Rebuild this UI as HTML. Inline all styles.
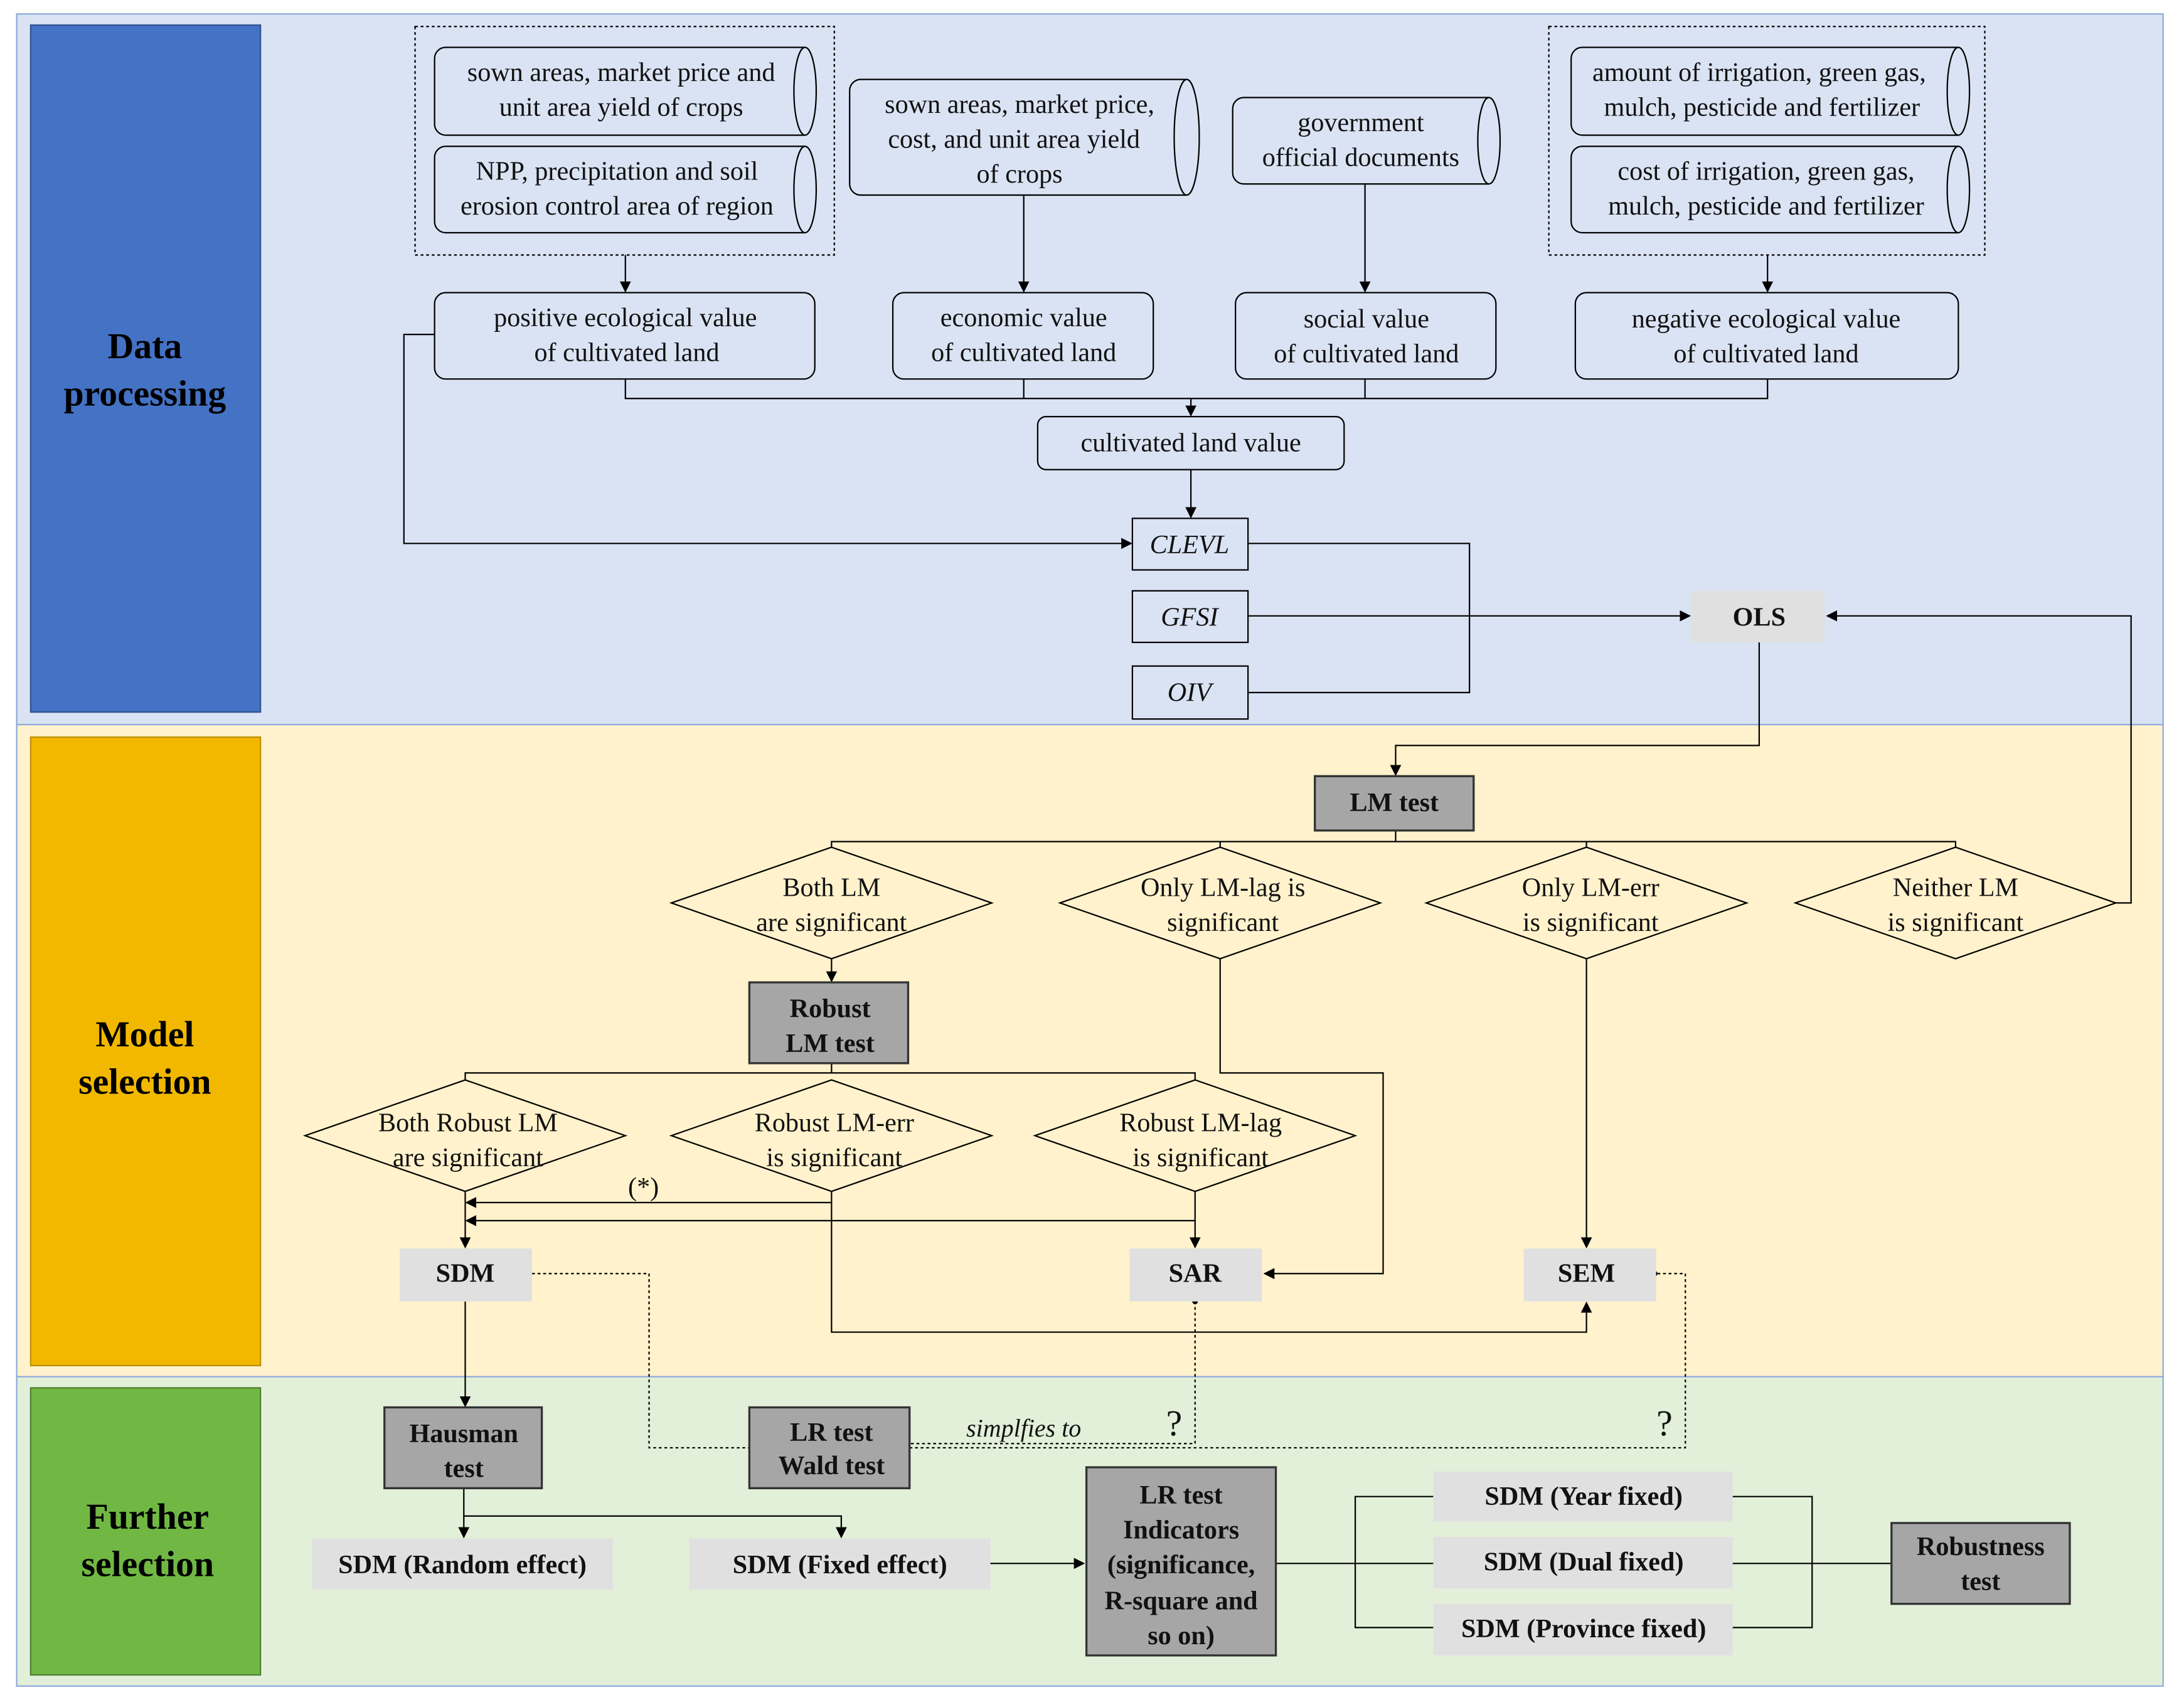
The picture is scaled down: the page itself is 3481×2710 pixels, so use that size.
<!DOCTYPE html>
<html><head><meta charset="utf-8"><style>html,body{margin:0;padding:0;background:#fff}svg{display:block}</style></head>
<body>
<svg width="3481" height="2710" viewBox="0 0 1568 1220" preserveAspectRatio="none" xmlns="http://www.w3.org/2000/svg" font-family="'Liberation Serif', serif" font-size="19">
<defs>
<marker id="a" markerWidth="8" markerHeight="8" refX="7" refY="4" orient="auto" markerUnits="userSpaceOnUse"><path d="M0,0 L8,4 L0,8 z" fill="#000"/></marker>
</defs>
<rect x="0" y="0" width="1568" height="1220" fill="#fff"/>
<rect x="12" y="10" width="1541" height="510" fill="#dae3f3" stroke="#8faadc" stroke-width="1"/>
<rect x="12" y="520" width="1541" height="468" fill="#fff2cc" stroke="#8faadc" stroke-width="1"/>
<rect x="12" y="988" width="1541" height="222" fill="#e2f0d9" stroke="#8faadc" stroke-width="1"/>
<rect x="22" y="18" width="165" height="493" fill="#4472c4" stroke="#2f528f"/>
<rect x="22" y="529" width="165" height="451" fill="#f2b800" stroke="#bf9000"/>
<rect x="22" y="996" width="165" height="206" fill="#70b843" stroke="#507e32"/>
<g font-weight="bold" font-size="26" text-anchor="middle" fill="#000">
<text x="104" y="257">Data</text><text x="104" y="291">processing</text>
<text x="104" y="751">Model</text><text x="104" y="785">selection</text>
<text x="106" y="1097">Further</text><text x="106" y="1131">selection</text>
</g>
<g fill="none" stroke="#000" stroke-width="1">
<rect x="298" y="19" width="301" height="164" stroke-dasharray="2,2"/>
<rect x="1112" y="19" width="313" height="164" stroke-dasharray="2,2"/>
<!-- cylinders -->
<path d="M320,34 H578 A8,31.5 0 0 1 578,97 H320 A8,8 0 0 1 312,89 V42 A8,8 0 0 1 320,34 Z M578,34 A8,31.5 0 0 0 578,97"/>
<path d="M320,105 H578 A8,31 0 0 1 578,167 H320 A8,8 0 0 1 312,159 V113 A8,8 0 0 1 320,105 Z M578,105 A8,31 0 0 0 578,167"/>
<path d="M618,57 H852 A9,41.5 0 0 1 852,140 H618 A8,8 0 0 1 610,132 V65 A8,8 0 0 1 618,57 Z M852,57 A9,41.5 0 0 0 852,140"/>
<path d="M893,70 H1069 A8,31 0 0 1 1069,132 H893 A8,8 0 0 1 885,124 V78 A8,8 0 0 1 893,70 Z M1069,70 A8,31 0 0 0 1069,132"/>
<path d="M1136,34 H1406 A8,31.5 0 0 1 1406,97 H1136 A8,8 0 0 1 1128,89 V42 A8,8 0 0 1 1136,34 Z M1406,34 A8,31.5 0 0 0 1406,97"/>
<path d="M1136,105 H1406 A8,31 0 0 1 1406,167 H1136 A8,8 0 0 1 1128,159 V113 A8,8 0 0 1 1136,105 Z M1406,105 A8,31 0 0 0 1406,167"/>
<rect x="312" y="210" width="273" height="62" rx="8"/>
<rect x="641" y="210" width="187" height="62" rx="8"/>
<rect x="887" y="210" width="187" height="62" rx="8"/>
<rect x="1131" y="210" width="275" height="62" rx="8"/>
<rect x="745" y="299" width="220" height="38" rx="6"/>
<rect x="813" y="372" width="83" height="37"/>
<rect x="813" y="424" width="83" height="37"/>
<rect x="813" y="478" width="83" height="38"/>
<!-- arrows data -->
<path d="M449,183 V209" marker-end="url(#a)"/>
<path d="M735,140 V209" marker-end="url(#a)"/>
<path d="M980,132 V209" marker-end="url(#a)"/>
<path d="M1269,183 V209" marker-end="url(#a)"/>
<path d="M449,272 V286 H1269 V272 M735,272 V286 M980,272 V286"/>
<path d="M855,286 V298" marker-end="url(#a)"/>
<path d="M855,337 V371" marker-end="url(#a)"/>
<path d="M312,240 H290 V390 H812" marker-end="url(#a)"/>
<path d="M896,390 H1055 V497 H896"/>
<path d="M896,442 H1213" marker-end="url(#a)"/>
<path d="M1519,648 H1530 V442 H1312" marker-end="url(#a)"/>
<path d="M1263,461 V535 H1002 V556" marker-end="url(#a)"/>
<!-- model -->
<path d="M1002,596 V604 M597,608 V604 H1404 V608 M876,604 V608 M1139,604 V608"/>
<path d="M597,608 L712,648 L597,688 L482,648 Z"/>
<path d="M876,608 L991,648 L876,688 L761,648 Z"/>
<path d="M1139,608 L1254,648 L1139,688 L1024,648 Z"/>
<path d="M1404,608 L1519,648 L1404,688 L1289,648 Z"/>
<path d="M597,688 V704" marker-end="url(#a)"/>
<path d="M876,688 V770 H993 V914 H908" marker-end="url(#a)"/>
<path d="M1139,688 V895" marker-end="url(#a)"/>
<path d="M597,763 V770 M334,775 V770 H858 V775"/>
<path d="M334,775 L449,815 L334,855 L219,815 Z"/>
<path d="M597,775 L712,815 L597,855 L482,815 Z"/>
<path d="M858,775 L973,815 L858,855 L743,815 Z"/>
<path d="M597,855 V956 H1139 V935" marker-end="url(#a)"/>
<path d="M597,863 H335" marker-end="url(#a)"/>
<path d="M858,855 V876 H335" marker-end="url(#a)"/>
<path d="M334,855 V895" marker-end="url(#a)"/>
<path d="M858,876 V895" marker-end="url(#a)"/>
<path d="M382,914 H466 V1039 H538" stroke-dasharray="2,2"/>
<path d="M653,1039 H1210 V914 H1190" stroke-dasharray="2,2"/>
<path d="M858,934 V1036 H653" stroke-dasharray="2,2"/>
<path d="M334,934 V1009" marker-end="url(#a)"/>
<path d="M333,1068 V1103" marker-end="url(#a)"/>
<path d="M333,1088 H604 V1103" marker-end="url(#a)"/>
<path d="M711,1122 H778" marker-end="url(#a)"/>
<path d="M916,1122 H1029 M1029,1074 H973 V1168 H1029"/>
<path d="M1244,1074 H1301 V1168 H1244 M1244,1122 H1358"/>
</g>
<circle cx="858" cy="934" r="2"/><circle cx="1188" cy="914" r="2"/>
<!-- gray boxes -->
<g stroke="none" fill="#e0e0e0">
<rect x="1214" y="424" width="96" height="37"/>
<rect x="287" y="896" width="95" height="38"/>
<rect x="811" y="896" width="95" height="38"/>
<rect x="1094" y="896" width="95" height="38"/>
<rect x="224" y="1104" width="216" height="37"/>
<rect x="495" y="1104" width="216" height="37"/>
<rect x="1029" y="1056" width="215" height="36"/>
<rect x="1029" y="1103" width="215" height="37"/>
<rect x="1029" y="1151" width="215" height="37"/>
</g>
<g fill="#a6a6a6" stroke="#333" stroke-width="1.5">
<rect x="944" y="557" width="114" height="39"/>
<rect x="538" y="705" width="114" height="58"/>
<rect x="276" y="1010" width="113" height="58"/>
<rect x="538" y="1010" width="115" height="58"/>
<rect x="780" y="1053" width="136" height="135"/>
<rect x="1358" y="1093" width="128" height="58"/>
</g>
<g text-anchor="middle" fill="#111">
<text x="446" y="58">sown areas, market price and</text><text x="446" y="83">unit area yield of crops</text>
<text x="443" y="129">NPP, precipitation and soil</text><text x="443" y="154">erosion control area of region</text>
<text x="732" y="81">sown areas, market price,</text><text x="728" y="106">cost, and unit area yield</text><text x="732" y="131">of  crops</text>
<text x="977" y="94">government</text><text x="977" y="119">official documents</text>
<text x="1263" y="58">amount of irrigation, green gas,</text><text x="1265" y="83">mulch, pesticide and fertilizer</text>
<text x="1268" y="129">cost of irrigation, green gas,</text><text x="1268" y="154">mulch, pesticide and fertilizer</text>
<text x="449" y="234">positive ecological value</text><text x="450" y="259">of cultivated land</text>
<text x="735" y="234">economic value</text><text x="735" y="259">of cultivated land</text>
<text x="981" y="235">social value</text><text x="981" y="260">of cultivated land</text>
<text x="1268" y="235">negative ecological value</text><text x="1268" y="260">of cultivated land</text>
<text x="855" y="324">cultivated land value</text>
<g font-style="italic"><text x="854" y="397">CLEVL</text><text x="854" y="449">GFSI</text><text x="854" y="503">OIV</text></g>
<text x="597" y="643">Both LM</text><text x="597" y="668">are significant</text>
<text x="878" y="643">Only LM-lag is</text><text x="878" y="668">significant</text>
<text x="1142" y="643">Only LM-err</text><text x="1142" y="668">is significant</text>
<text x="1404" y="643">Neither LM</text><text x="1404" y="668">is significant</text>
<text x="336" y="812">Both Robust LM</text><text x="336" y="837">are significant</text>
<text x="599" y="812">Robust LM-err</text><text x="599" y="837">is significant</text>
<text x="862" y="812">Robust LM-lag</text><text x="862" y="837">is significant</text>
<text x="462" y="858">(*)</text>
<text x="735" y="1031" font-style="italic" font-size="18">simplfies to</text>
<text x="843" y="1030" font-size="26">?</text><text x="1195" y="1030" font-size="26">?</text>
<g font-weight="bold">
<text x="1263" y="449">OLS</text>
<text x="1001" y="582">LM test</text>
<text x="596" y="730">Robust</text><text x="596" y="755">LM test</text>
<text x="334" y="920">SDM</text><text x="858" y="920">SAR</text><text x="1139" y="920">SEM</text>
<text x="333" y="1035">Hausman</text><text x="333" y="1060">test</text>
<text x="597" y="1034">LR test</text><text x="597" y="1058">Wald test</text>
<text x="332" y="1129">SDM (Random effect)</text>
<text x="603" y="1129">SDM (Fixed effect)</text>
<text x="848" y="1079">LR test</text><text x="848" y="1104">Indicators</text><text x="848" y="1129">(significance,</text><text x="848" y="1155">R-square and</text><text x="848" y="1180">so on)</text>
<text x="1137" y="1080">SDM (Year fixed)</text>
<text x="1137" y="1127">SDM (Dual fixed)</text>
<text x="1137" y="1175">SDM (Province fixed)</text>
<text x="1422" y="1116">Robustness</text><text x="1422" y="1141">test</text>
</g>
</g>
</svg>
</body></html>
